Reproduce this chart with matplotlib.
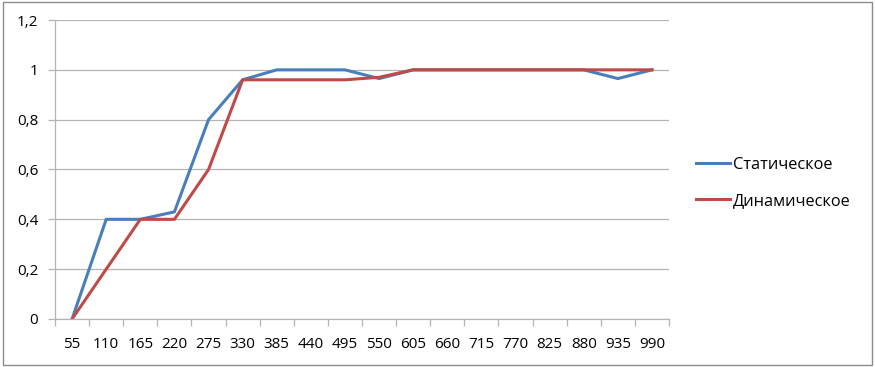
"""Static vs dynamic curve, Excel-style line chart."""
import matplotlib
matplotlib.use("Agg")
import matplotlib.pyplot as plt
from matplotlib.patches import Rectangle
from matplotlib.ticker import FixedLocator, FuncFormatter

categories = [55, 110, 165, 220, 275, 330, 385, 440, 495, 550,
              605, 660, 715, 770, 825, 880, 935, 990]
static = [0, 0.4, 0.4, 0.43, 0.8, 0.96, 1, 1, 1, 0.965,
          1, 1, 1, 1, 1, 1, 0.965, 1]
dynamic = [0, 0.2, 0.4, 0.4, 0.6, 0.96, 0.96, 0.96, 0.96, 0.97,
           1, 1, 1, 1, 1, 1, 1, 1]
series_names = ["Статическое", "Динамическое"]

plt.rcParams['font.family'] = ['Open Sans', 'DejaVu Sans']
GRID = "#B4B4B4"

fig = plt.figure(figsize=(8.75, 3.67), dpi=100)
ax = fig.add_axes([0.0629, 0.1308, 0.7017, 0.8147])

x = list(range(len(categories)))
ax.plot(x, static, color="#4A7EBB", lw=2.2, label=series_names[0],
        solid_joinstyle="round")
ax.plot(x, dynamic, color="#BE4B48", lw=2.2, label=series_names[1],
        solid_joinstyle="round")

ax.set_xlim(-0.5, len(categories) - 0.5)
ax.set_ylim(0, 1.2)
ax.set_yticks([0, 0.2, 0.4, 0.6, 0.8, 1.0, 1.2])
ax.yaxis.set_major_formatter(FuncFormatter(
    lambda v, _: ("%g" % round(v, 1)).replace(".", ",")))
ax.set_xticks(x)
ax.set_xticklabels([str(c) for c in categories])
ax.xaxis.set_minor_locator(FixedLocator([i - 0.5 for i in range(len(categories) + 1)]))
ax.tick_params(axis="x", which="major", length=0, pad=13, labelsize=11)
ax.tick_params(axis="x", which="minor", length=5, color=GRID, width=0.9)
ax.tick_params(axis="y", length=5, color=GRID, width=0.9, labelsize=11, pad=7)

ax.grid(axis="y", color=GRID, lw=0.9)
ax.set_axisbelow(True)
for side in ("top", "right"):
    ax.spines[side].set_visible(False)
for side in ("left", "bottom"):
    ax.spines[side].set_color(GRID)
    ax.spines[side].set_linewidth(0.9)

ax.legend(loc="center left", bbox_to_anchor=(1.02, 0.455), frameon=False,
          fontsize=11.8, handlelength=2.1, handletextpad=0.15, labelspacing=1.25)

fig.patches.append(Rectangle((0.003, 0.006), 0.994, 0.988, transform=fig.transFigure,
                             fill=False, edgecolor="#8C8C8C", lw=1.0))

fig.savefig("out.png", dpi=100)
